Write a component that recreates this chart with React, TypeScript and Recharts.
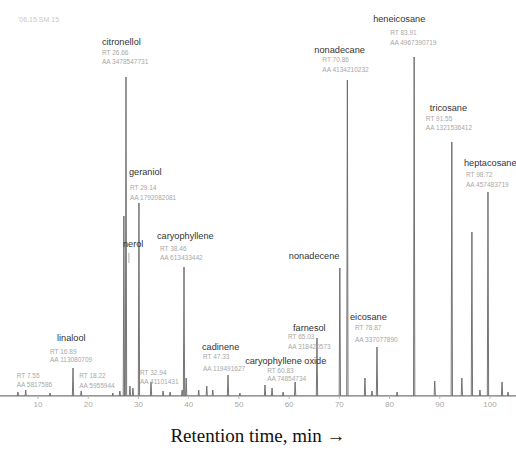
import { ComposedChart, Line, XAxis, YAxis, ReferenceDot } from "recharts"

// peak retention (min) and height (detector units, arbitrary)
const PEAK_RT = [
  6.0, 7.55, 12.4, 16.97, 18.6, 24.9, 26.3, 27.1, 27.52, 28.3, 28.9, 30.1, 32.5, 34.9, 36.3,
  38.7, 39.07, 39.5, 42.0, 43.6, 44.8, 47.83, 50.2, 55.2, 56.6, 58.8, 61.2, 65.55, 70.1,
  71.6, 75.1, 76.5, 77.5, 81.5, 84.9, 89.0, 92.4, 94.4, 96.4, 98.0, 99.6, 102.4, 103.6,
]
const PEAK_HEIGHT = [
  4, 6, 3, 28, 5, 3, 5, 180, 319, 10, 8, 193, 14, 5, 4,
  6, 129, 18, 6, 10, 6, 21, 3, 11, 8, 4, 14, 58, 128,
  316, 18, 5, 49, 4, 339, 15, 254, 18, 164, 6, 204, 14, 4,
]

// annotated peaks
const LABEL_AT = [7.55, 16.97, 18.6, 27.52, 28.3, 30.1, 32.5, 39.07, 47.83, 61.2, 65.55, 70.1, 71.6, 77.5, 84.9, 92.4, 99.6]
const LABEL_NAME = [
  "", "linalool", "", "citronellol", "nerol", "geraniol", "", "caryophyllene", "cadinene",
  "caryophyllene oxide", "farnesol", "nonadecene", "nonadecane", "eicosane", "heneicosane",
  "tricosane", "heptacosane",
]
const LABEL_RT = [
  "RT 7.55", "RT 16.89", "RT 18.22", "RT 26.66", "", "RT 29.14", "RT 32.94", "RT 38.46", "RT 47.33",
  "RT 60.83", "RT 65.03", "", "RT 70.86", "RT 78.87", "RT 83.91", "RT 91.55", "RT 98.72",
]
const LABEL_AA = [
  "AA 5817586", "AA 113080709", "AA 5955944", "AA 3478547731", "", "AA 1792082081", "AA 41101431",
  "AA 613433442", "AA 119491627", "AA 74854734", "AA 318420573", "", "AA 4134210232",
  "AA 337077890", "AA 4967390719", "AA 1321536412", "AA 457483719",
]
const X_TICKS = [10, 20, 30, 40, 50, 60, 70, 80, 90, 100]

// label layout: [name dx, name dy, lines dx, RT dy, AA dy] relative to peak top
const LABEL_LAYOUT = [
  [0, 0, -9, -14, -5],
  [-16, -30, -23, -16, -8],
  [0, 0, -2, -15, -5],
  [-24, -35, -24, -24, -15],
  [-7, -142, 0, 0, 0],
  [-10, -31, -9, -15, -5],
  [0, 0, -11, -9, 0],
  [-27, -31, -24, -18, -9],
  [-26, -28, -25, -18, -6],
  [-50, -21, -28, -11, -3],
  [-24, -10, -29, -1, 9],
  [-51, -12, 0, 0, 0],
  [-33, -30, -25, -20, -10],
  [-27, -30, -22, -19, -7],
  [-41, -38, -24, -24, -14],
  [-22, -34, -26, -23, -14],
  [-24, -29, -22, -17, -7],
]

const HALF_WIDTH = 0.13
const T_MIN = 2.43
const T_MAX = 105.18

const peaks = PEAK_RT.map((t, i) => ({ t, h: PEAK_HEIGHT[i] })).sort((a, b) => a.t - b.t)
const trace: { t: number; v: number }[] = [{ t: T_MIN, v: 0 }]
peaks.forEach((p) => {
  trace.push({ t: p.t - HALF_WIDTH, v: 0 }, { t: p.t, v: p.h }, { t: p.t + HALF_WIDTH, v: 0 })
})
trace.push({ t: T_MAX, v: 0 })

const SANS = "'Liberation Sans', Arial, sans-serif"

function PeakLabel(props: any) {
  const { viewBox, idx } = props
  const x = viewBox.x
  const y = viewBox.y
  const [ndx, ndy, ldx, rdy, ady] = LABEL_LAYOUT[idx]
  return (
    <g fontFamily={SANS}>
      {LABEL_NAME[idx] && (
        <text x={x + ndx} y={y + ndy} dy="0.35em" fontSize={9.2} fill="#333">
          {LABEL_NAME[idx]}
        </text>
      )}
      {LABEL_NAME[idx] === "nerol" && (
        <line x1={x - 1} y1={y + ndy + 9} x2={x - 1} y2={y + ndy + 19} stroke="#999" strokeWidth={0.8} />
      )}
      {LABEL_RT[idx] && (
        <text x={x + ldx} y={y + rdy} dy="0.35em" fontSize={6.5} fill="#a8a8a8">
          {LABEL_RT[idx]}
        </text>
      )}
      {LABEL_AA[idx] && (
        <text x={x + ldx} y={y + ady} dy="0.35em" fontSize={6.5} fill="#a8a8a8">
          {LABEL_AA[idx]}
        </text>
      )}
    </g>
  )
}

export default function App() {
  return (
    <div style={{ position: "absolute", left: 0, top: 0, width: 516, height: 457, background: "#fff" }}>
      <div
        style={{
          position: "absolute", left: 18, top: 16, fontFamily: SANS, fontSize: 7, color: "#c8c8c8",
        }}
      >
        '06,15  SM 15
      </div>
      <ComposedChart width={516} height={457} data={trace} margin={{ top: 0, right: 0, left: 0, bottom: 41 }}>
        <XAxis
          type="number"
          dataKey="t"
          domain={[T_MIN, T_MAX]}
          ticks={X_TICKS}
          allowDataOverflow
          height={20}
          tickSize={3}
          tickMargin={2}
          axisLine={{ stroke: "#777" }}
          tickLine={{ stroke: "#bbb" }}
          tick={{ fontSize: 8, fill: "#aaa", fontFamily: SANS }}
        />
        <YAxis hide domain={[0, 396]} allowDataOverflow />
        <Line
          type="linear"
          dataKey="v"
          stroke="#666"
          strokeWidth={0.9}
          dot={false}
          activeDot={false}
          isAnimationActive={false}
        />
        {LABEL_AT.map((t, i) => (
          <ReferenceDot
            key={i}
            x={t}
            y={PEAK_HEIGHT[PEAK_RT.indexOf(t)]}
            r={0}
            fill="none"
            stroke="none"
            label={(p: any) => <PeakLabel {...p} idx={i} />}
          />
        ))}
      </ComposedChart>
      <div
        style={{
          position: "absolute", left: 0, top: 425, width: 516, textAlign: "center",
          fontFamily: "'Liberation Serif', 'Times New Roman', serif", fontSize: 19, color: "#111",
        }}
      >
        Retention time, min →
      </div>
    </div>
  )
}
